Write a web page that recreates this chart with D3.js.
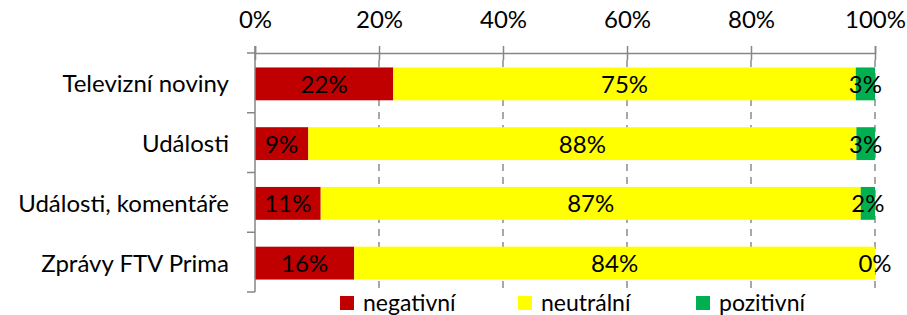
<!DOCTYPE html>
<html>
<head>
<meta charset="utf-8">
<script src="https://cdn.jsdelivr.net/npm/d3@7"></script>
<style>
  body { margin: 0; background: #fff; }
  svg text { font-family: Lato, "Open Sans", sans-serif; fill: #000; }
</style>
</head>
<body>
<div id="viz_chart"></div>
<script>
// data
var categories = ["Televizní noviny", "Události", "Události, komentáře", "Zprávy FTV Prima"];
var series = ["negativní", "neutrální", "pozitivní"];
var negativni = [22.3, 8.6, 10.6, 16.0];
var neutralni = [74.6, 88.4, 87.1, 84.0];
var pozitivni = [3.1, 3.0, 2.3, 0];
var tickValues = [0, 20, 40, 60, 80, 100];
var colors = ["#C00000", "#FFFF00", "#00B050"];

var width_svg = 907;
var height_svg = 315;

var svg = d3.select("#viz_chart")
    .append("svg")
    .attr("width", width_svg)
    .attr("height", height_svg);

var rows = categories.map(function (c, i) {
    return { cat: c, "negativní": negativni[i], "neutrální": neutralni[i], "pozitivní": pozitivni[i] };
});

var x = d3.scaleLinear().domain([0, 100]).range([255, 875]);
var y = d3.scaleBand()
    .domain(categories)
    .range([54, 293])
    .paddingInner(0.45)
    .paddingOuter(0.225);
var color = d3.scaleOrdinal().domain(series).range(colors);

var axisTop = 53;
var axisBottom = 292;

// dashed gridlines
svg.append("g")
    .selectAll("line")
    .data(tickValues.slice(1))
    .join("line")
    .attr("x1", d => x(d))
    .attr("x2", d => x(d))
    .attr("y1", 60)
    .attr("y2", axisBottom)
    .attr("stroke", "#8c8c8c")
    .attr("stroke-width", 1.5)
    .attr("stroke-dasharray", "7,6");

// stacked bars
var stacked = d3.stack().keys(series)(rows);

var layer = svg.append("g")
    .selectAll("g")
    .data(stacked)
    .join("g")
    .attr("fill", d => color(d.key));

layer.selectAll("rect")
    .data(d => d)
    .join("rect")
    .attr("x", d => x(d[0]))
    .attr("width", d => x(d[1]) - x(d[0]))
    .attr("y", d => y(d.data.cat))
    .attr("height", y.bandwidth());

// value labels
var fmt = d3.format(".0%");
layer.selectAll("text")
    .data(d => d.map(v => ({ v: v, key: d.key })))
    .join("text")
    .attr("x", d => x((d.v[0] + d.v[1]) / 2))
    .attr("y", d => y(d.v.data.cat) + y.bandwidth() / 2 + 9)
    .attr("text-anchor", "middle")
    .style("font-size", "24px")
    .text(d => fmt(d.v.data[d.key] / 100));

// top axis
var gx = svg.append("g")
    .attr("transform", "translate(0," + axisTop + ")")
    .call(d3.axisTop(x)
        .tickValues(tickValues)
        .tickSize(7)
        .tickPadding(18)
        .tickFormat(d => d + "%"));
gx.select(".domain").attr("stroke", "#868686").attr("stroke-width", 1.5);
gx.selectAll(".tick line")
    .attr("y1", 7)
    .attr("stroke", "#868686")
    .attr("stroke-width", 1.5);
gx.selectAll(".tick text")
    .style("font-size", "24px")
    .style("font-family", "Lato, sans-serif");

// left axis with category labels
var gy = svg.append("g")
    .attr("transform", "translate(" + x(0) + ",0)")
    .call(d3.axisLeft(y).tickSize(0).tickPadding(26));
gy.select(".domain").remove();
gy.selectAll(".tick text")
    .attr("dy", null)
    .attr("y", 8.5)
    .style("font-size", "24px")
    .style("font-family", "Lato, sans-serif");

svg.append("line")
    .attr("x1", x(0))
    .attr("x2", x(0))
    .attr("y1", 46)
    .attr("y2", axisBottom)
    .attr("stroke", "#868686")
    .attr("stroke-width", 1.5);

// tick marks between categories
var bounds = d3.range(categories.length + 1).map(i => axisTop + i * (axisBottom - axisTop) / categories.length);
svg.append("g")
    .selectAll("line")
    .data(bounds)
    .join("line")
    .attr("x1", x(0) - 8)
    .attr("x2", x(0))
    .attr("y1", d => d)
    .attr("y2", d => d)
    .attr("stroke", "#868686")
    .attr("stroke-width", 1.5);

// legend
var legend = svg.append("g")
    .selectAll("g")
    .data(series)
    .join("g")
    .attr("transform", (d, i) => "translate(" + (340 + i * 178) + ",296)");

legend.append("rect")
    .attr("width", 14)
    .attr("height", 14)
    .attr("fill", d => color(d));

legend.append("text")
    .attr("x", 23)
    .attr("y", 14.5)
    .style("font-size", "23px")
    .text(d => d);
</script>
</body>
</html>
